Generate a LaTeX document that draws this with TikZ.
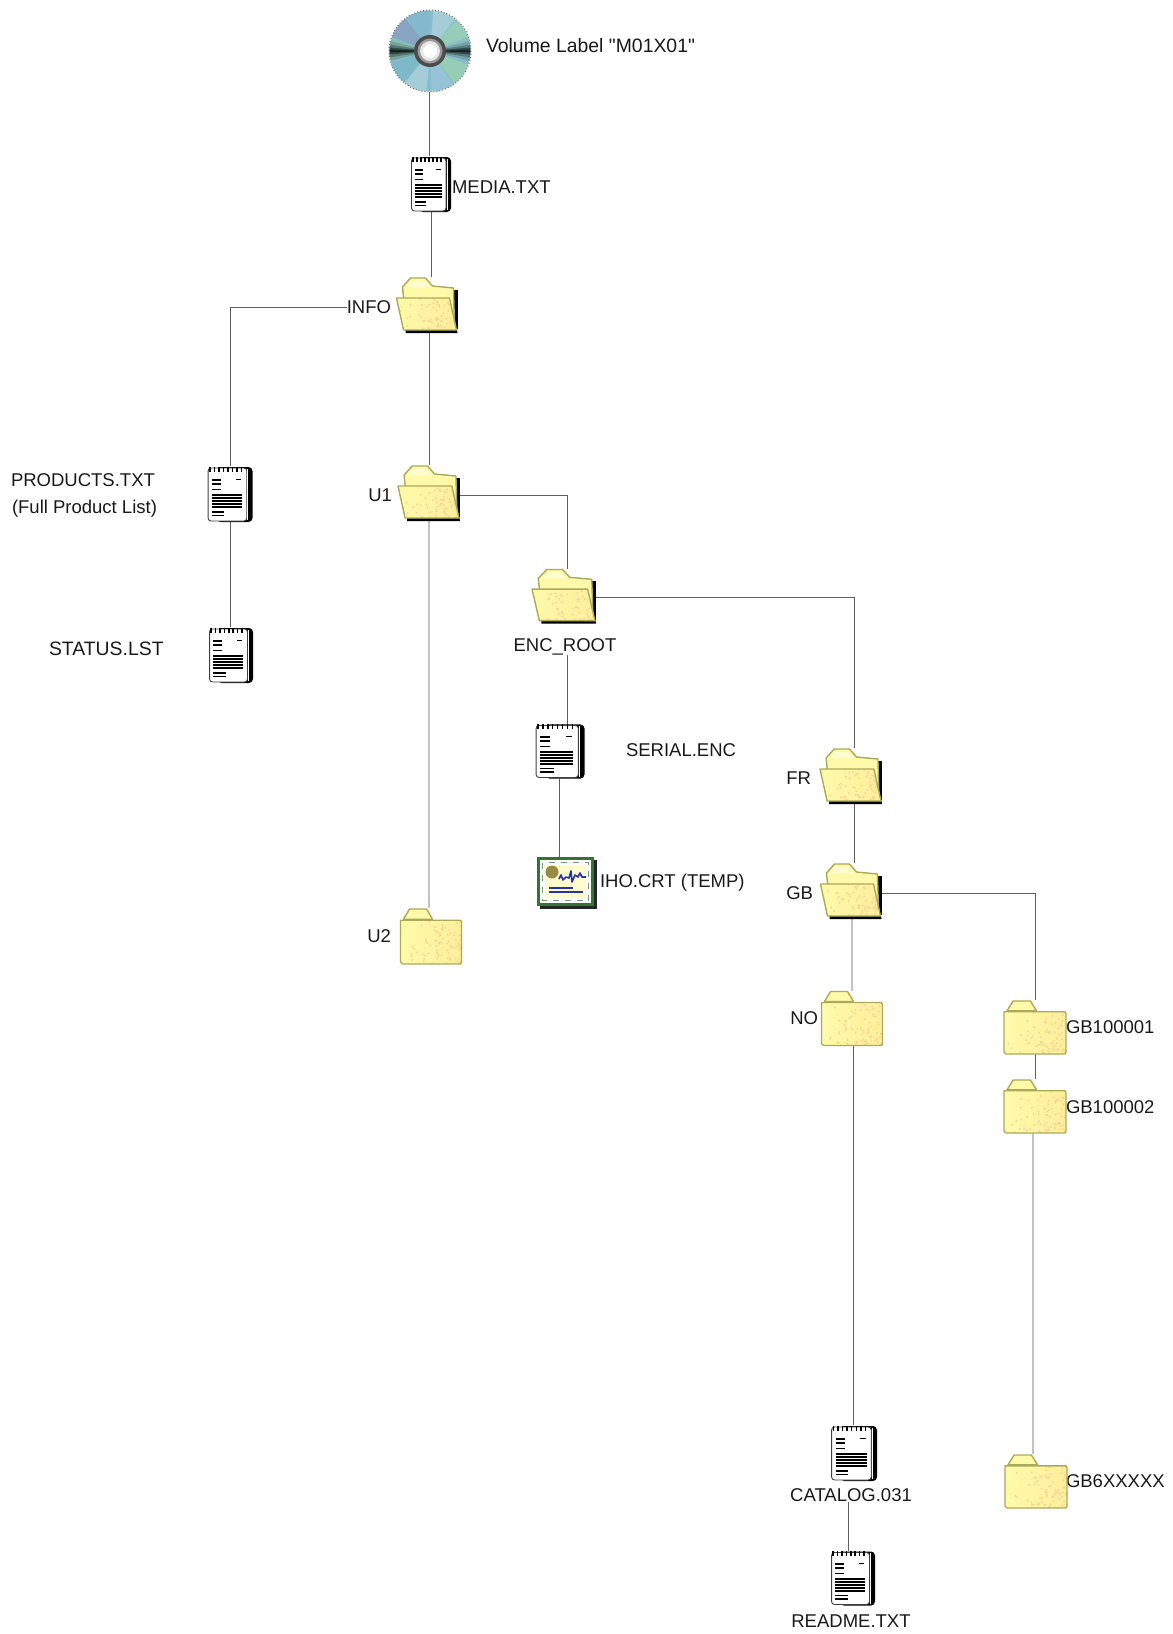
\documentclass[tikz,border=0pt]{standalone}
\usepackage{fontspec}
\setmainfont{Liberation Sans}[Ligatures=TeXOff]
\definecolor{olive}{RGB}{170,170,90}
\definecolor{fyel}{RGB}{255,250,170}
\definecolor{fpink}{RGB}{254,238,155}
\definecolor{fdot}{RGB}{247,208,150}
\definecolor{lnk}{RGB}{95,95,95}
\definecolor{lnkfaint}{RGB}{195,195,195}
\definecolor{certgreen}{RGB}{50,115,60}
\definecolor{certblue}{RGB}{40,50,170}
\tikzset{
  lbl/.style={inner sep=0pt,outer sep=0pt,yshift=-0.2pt,font=\fontsize{9.25pt}{11pt}\selectfont,text=black!90},
  lblbig/.style={lbl,font=\fontsize{9.7pt}{11pt}\selectfont},
  link/.style={draw=lnk,line width=0.45pt},
  faint/.style={draw=lnkfaint,line width=0.55pt},
  folderedge/.style={draw=olive,line width=0.7pt,line join=round}
}
\newcommand{\place}[5]{\node[inner sep=0pt,outer sep=0pt,minimum width=#4*0.5pt,minimum height=#5*0.5pt] (#1) at (#2,#3) {};}
% random speckle in box w x h, denser towards the lower right
\newcommand{\speckle}[2]{%
  \foreach \k in {1,...,80}{%
    \pgfmathsetmacro{\rx}{#1*rnd^0.45}%
    \pgfmathsetmacro{\ry}{#2*rnd^0.55}%
    \fill[fdot] (\rx,\ry) circle (1.0);
  }}
\newcommand{\drawdoc}[3]{%
  \begin{scope}[shift={(#1.center)},xscale={#2/40},yscale={#3/56},shift={(-20,-28)}]
    \fill[black] (8,1) [rounded corners=2] rectangle (40,56);
    \fill[white,draw=black!75,line width=0.45pt,rounded corners=1.5] (0.5,2) rectangle (35,55);
    \draw[black,line width=0.5pt] (36.5,3) -- (36.5,54);
    \fill[white] (35.5,3) rectangle (36,54);
    \foreach \t in {2,6,...,30}{\draw[black,line width=0.75pt] (\t,0.5) -- (\t,6);}
    \fill[black] (4,13) rectangle (12,15);
    \fill[black] (4,16.5) rectangle (12,18.5);
    \fill[black] (25,13) rectangle (30,14);
    \fill[black] (4,23) rectangle (12,24);
    \foreach \b in {28,31,34,37,40}{\fill[black] (4,\b) rectangle (31,\b+1.8);}
    \fill[black] (4,45) rectangle (15,46.5);
    \fill[black] (4,48.5) rectangle (15,50);
  \end{scope}}
\newcommand{\drawopen}[3]{%
  \begin{scope}[shift={(#1.center)},xscale={#2/61},yscale={#3/56},shift={(-30.5,-28)}]
    \fill[black] (9,50) -- (60,50) -- (61,56) -- (9,56) -- cycle;
    \fill[black] (57,13) rectangle (61,52);
    \path[fill=fyel,folderedge] (6,10) -- (14,1) -- (29,1) -- (36,9) -- (57,11) -- (58,50) -- (10,50) -- cycle;
    \fill[white!45!fyel] (10,10) -- (15,4) -- (28,4) -- (33,10) -- cycle;
    \begin{scope}
      \clip (0,21) -- (53,21) -- (60,53) -- (7,53) -- cycle;
      \shade[left color=fyel,right color=fpink] (0,21) rectangle (60,53);
      \speckle{60}{53}
    \end{scope}
    \path[folderedge] (0,21) -- (53,21) -- (60,53) -- (7,53) -- cycle;
  \end{scope}}
\newcommand{\drawclosed}[3]{%
  \begin{scope}[shift={(#1.center)},xscale={#2/61},yscale={#3/55},shift={(-30.5,-27.5)}]
    \path[fill=fyel,folderedge] (3,11) -- (9,1) -- (26,1) -- (32,11) -- cycle;
    \begin{scope}
      \clip (0,12) -- (60,12) -- (61,14) -- (61,55) -- (1,55) -- (0,53) -- cycle;
      \shade[left color=fyel,right color=fpink] (0,11) rectangle (61,55);
      \speckle{61}{55}
    \end{scope}
    \path[folderedge] (0,12) -- (32,12) -- (60,12) -- (61,14) -- (61,53) -- (60,55) -- (2,55) -- (0,53) -- cycle;
  \end{scope}}
\newcommand{\drawcd}[1]{%
  \begin{scope}[shift={(#1.center)}]
    \begin{scope}
      \clip (0,0) circle (40.5);
      \fill[fill={rgb,255:red,135;green,190;blue,205}] (0,0) circle (41);
      \foreach \a/\c in {20/{rgb,255:red,150;green,205;blue,180},55/{rgb,255:red,150;green,195;blue,215},95/{rgb,255:red,165;green,205;blue,215},130/{rgb,255:red,125;green,185;blue,200},
        165/{rgb,255:red,135;green,190;blue,180},200/{rgb,255:red,135;green,165;blue,195},235/{rgb,255:red,130;green,185;blue,205},275/{rgb,255:red,165;green,205;blue,215},310/{rgb,255:red,150;green,205;blue,185},340/{rgb,255:red,135;green,190;blue,195}}{
        \fill[fill=\c] (0,0) -- (\a:45) -- (\a+33:45) -- cycle;
      }
      \foreach \d/\o in {14/0.14,9/0.25,5/0.4,2/0.5}{
        \fill[black,opacity=\o] (0,0) -- (-\d:45) -- (\d:45) -- cycle;
        \fill[black,opacity=\o] (0,0) -- (180-\d:45) -- (180+\d:45) -- cycle;
      }
    \end{scope}
    \draw[black!60,densely dotted,line width=0.5pt] (0,0) circle (41);
    \fill[black!70] (0,0) circle (16);
    \fill[black!40] (0,0) circle (12.5);
    \fill[black!10] (0,0) circle (10);
    \fill[white] (0,0) circle (7);
  \end{scope}}
\newcommand{\drawcert}[1]{%
  \begin{scope}[shift={(#1.center)},shift={(-30,-26)}]
    \fill[black!85] (3,3) rectangle (60,52);
    \fill[certgreen] (0,0) rectangle (57,49);
    \fill[white] (3,3) rectangle (54,46);
    \draw[certgreen!70,dashed,line width=0.9pt] (5.5,5.5) rectangle (51.5,43.5);
    \fill[fill={rgb,255:red,255;green,253;blue,205}] (8,8) rectangle (49,41);
    \fill[fill={rgb,255:red,150;green,140;blue,70}] (15,15) circle (6.5);
    \draw[certblue,line width=0.8pt,line join=round] (22,22) -- (24,18) -- (26,23) -- (29,20) -- (32,21) -- (34,14) -- (35,25) -- (38,18) -- (41,20) -- (43,16) -- (45,20) -- (49,20);
    \draw[certblue,line width=0.9pt] (12,31) -- (36,31);
    \draw[certblue,line width=0.9pt] (12,35) -- (46,35);
  \end{scope}}
\begin{document}
\begin{tikzpicture}[x=0.5pt,y=-0.5pt]
\pgfmathsetseed{31}
\useasboundingbox (0,0) rectangle (1173,1634);
% icon nodes
\place{cd}{430}{51}{82}{82}
\place{media}{431}{184}{40}{56}
\place{info}{427}{305}{61}{56}
\place{prods}{230}{494}{45}{56}
\place{status}{231}{655}{44}{56}
\place{uone}{429}{493}{62}{56}
\place{utwo}{431}{936}{61}{56}
\place{enc}{564}{596}{64}{55}
\place{serial}{560}{751}{49}{55}
\place{cert}{567}{883}{60}{52}
\place{fr}{851}{776}{62}{56}
\place{gb}{851}{891}{61}{56}
\place{no}{852}{1018}{61}{55}
\place{gba}{1035}{1027}{62}{54}
\place{gbb}{1035}{1106}{62}{54}
\place{gbx}{1036}{1481}{62}{54}
\place{catalog}{854}{1453}{46}{56}
\place{readme}{853}{1578}{44}{55}
% labels
\node[lblbig,anchor=west] (lvol) at (486,45) {Volume Label "M01X01"};
\node[lbl,anchor=west] (lmedia) at (452,187) {MEDIA.TXT};
\node[lbl,anchor=east] (linfo) at (391,307) {INFO};
\node[lbl,anchor=west] (lprods) at (11,480) {PRODUCTS.TXT};
\node[lbl,anchor=west] (lfull) at (12,508) {(Full Product List)};
\node[lblbig,anchor=west] (lstatus) at (49,648) {STATUS.LST};
\node[lbl,anchor=east] (luone) at (392,495) {U1};
\node[lbl,anchor=east] (lutwo) at (391,936) {U2};
\node[lbl] (lenc) at (565,646) {ENC\_ROOT};
\node[lbl,anchor=west] (lserial) at (626,750) {SERIAL.ENC};
\node[lbl,anchor=west] (lcert) at (600,882) {IHO.CRT (TEMP)};
\node[lbl,anchor=east] (lfr) at (811,778) {FR};
\node[lbl,anchor=east] (lgb) at (813,893) {GB};
\node[lbl,anchor=east] (lno) at (818,1018) {NO};
\node[lbl,anchor=west] (lgba) at (1066,1027) {GB100001};
\node[lbl,anchor=west] (lgbb) at (1066,1107) {GB100002};
\node[lbl,anchor=west] (lgbx) at (1066,1481) {GB6XXXXX};
\node[lbl] (lcatalog) at (851,1495) {CATALOG.031};
\node[lbl] (lreadme) at (851,1621) {README.TXT};
% connectors
\draw[link] ([xshift=-0.5pt]cd.south) -- ([xshift=-1pt]media.north);
\draw[link] (media.south) -- ([xshift=2pt]info.north);
\draw[link] ([xshift=1pt]info.south) -- (uone.north);
\draw[link] (linfo.west) -| (prods.north);
\draw[link] (prods.south) -- ([xshift=-0.5pt]status.north);
\draw[faint] (uone.south) -- ([xshift=-1pt]utwo.north);
\draw[link] ([yshift=-1pt]uone.east) -| ([xshift=1.5pt]enc.north);
\draw[link] ([yshift=-0.5pt]enc.east) -| ([xshift=1.5pt]fr.north);
\draw[link] ([xshift=1pt]lenc.south) -- ([xshift=3.5pt]serial.north);
\draw[link] ([xshift=-0.5pt]serial.south) -- ([xshift=-4pt]cert.north);
\draw[link] ([xshift=1.5pt]fr.south) -- ([xshift=1.5pt]gb.north);
\draw[link] ([yshift=-1pt]gb.east) -| (gba.north);
\draw[faint] ([xshift=0.5pt]gb.south) -- (no.north);
\draw[link] ([xshift=0.5pt]no.south) -- ([xshift=-0.5pt]catalog.north);
\draw[link] (gba.south) -- (gbb.north);
\draw[faint] ([xshift=-1pt]gbb.south) -- ([xshift=-1.5pt]gbx.north);
\draw[link] ([xshift=-1.5pt]lcatalog.south) -- ([xshift=-2.5pt]readme.north);
% icons
\drawcd{cd}
\drawdoc{media}{40}{56}
\drawdoc{prods}{45}{56}
\drawdoc{status}{44}{56}
\drawdoc{serial}{49}{55}
\drawdoc{catalog}{46}{56}
\drawdoc{readme}{44}{55}
\drawopen{info}{61}{56}
\drawopen{uone}{62}{56}
\drawopen{enc}{64}{55}
\drawopen{fr}{62}{56}
\drawopen{gb}{61}{56}
\drawclosed{utwo}{61}{56}
\drawclosed{no}{61}{55}
\drawclosed{gba}{62}{54}
\drawclosed{gbb}{62}{54}
\drawclosed{gbx}{62}{54}
\drawcert{cert}
\end{tikzpicture}
\end{document}
